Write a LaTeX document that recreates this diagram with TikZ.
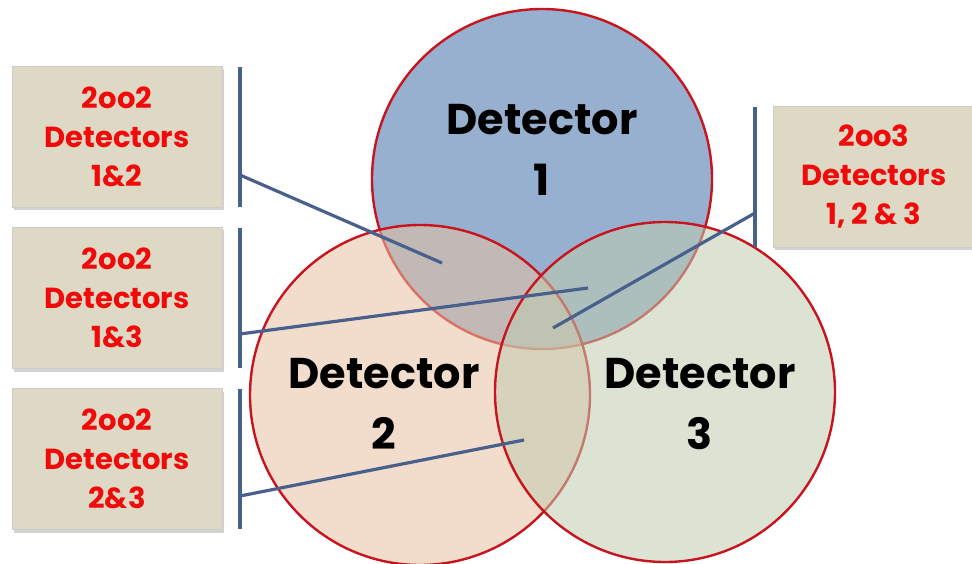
\documentclass[tikz,border=0pt]{standalone}
\usepackage{fontspec}
\setmainfont{Poppins}
\usetikzlibrary{positioning, shadows}

\definecolor{detblue}{RGB}{108,142,188}
\definecolor{detpeach}{RGB}{231,191,160}
\definecolor{detgreen}{RGB}{191,204,175}
\definecolor{detred}{RGB}{200,20,30}
\definecolor{boxfill}{RGB}{221,217,196}
\definecolor{boxtext}{RGB}{240,10,10}
\definecolor{leadblue}{RGB}{72,96,140}

\begin{document}
\begin{tikzpicture}[x=1pt, y=-1pt,
    detector/.style={circle, draw=detred, line width=2.4pt, fill opacity=0.55,
        minimum size=340pt, inner sep=0pt},
    detlabel/.style={align=center, font=\fontsize{43}{61}\selectfont\bfseries, text=black},
    infobox/.style={draw=black!20, fill=boxfill, minimum width=210pt, minimum height=141pt,
        align=center, text=boxtext, font=\fontsize{29}{39}\selectfont\bfseries,
        drop shadow={shadow xshift=2pt, shadow yshift=-3pt, opacity=0.35}},
    leader/.style={draw=leadblue, line width=3.2pt}]
    \useasboundingbox (0,0) rectangle (972,564);

    % Detector circles
    \node[detector, fill=detblue, fill opacity=0.7] (det1) at (542,179) {};
    \node[detector, fill=detpeach] (det2) at (420,395) {};
    \node[detector, fill=detgreen] (det3) at (665,392) {};

    % Detector labels
    \node[detlabel] (lab1) at (542,150) {Detector\\1};
    \node[detlabel] (lab2) at (384,404) {Detector\\2};
    \node[detlabel] (lab3) at (700,404) {Detector\\3};

    % Info boxes (left side)
    \node[infobox] (box12) at (117,136.5) {2oo2\\Detectors\\1\&2};
    \node[infobox] (box13) at (117,298) {2oo2\\Detectors\\1\&3};
    \node[infobox] (box23) at (117,459) {2oo2\\Detectors\\2\&3};

    % Info box (right side)
    \node[infobox, minimum width=202pt] (box123) at (874,177) {2oo3\\Detectors\\1, 2 \& 3};

    % Bars beside the boxes
    \coordinate (bar12a) at (240,67);   \coordinate (bar12b) at (240,207);
    \coordinate (bar13a) at (240,228);  \coordinate (bar13b) at (240,368);
    \coordinate (bar23a) at (240,389);  \coordinate (bar23b) at (240,529);
    \coordinate (bar123a) at (755,107); \coordinate (bar123b) at (755,247);
    \draw[leader] (bar12a) -- (bar12b);
    \draw[leader] (bar13a) -- (bar13b);
    \draw[leader] (bar23a) -- (bar23b);
    \draw[leader] (bar123a) -- (bar123b);

    % Leader lines into the overlaps
    \coordinate (from12) at (240,175);   \coordinate (in12) at (442,263);
    \coordinate (from13) at (240,334);   \coordinate (in13) at (588,288);
    \coordinate (from23) at (240,496);   \coordinate (in23) at (524,440);
    \coordinate (from123) at (755,213);  \coordinate (in123) at (553,328);
    \draw[leader] (from12) -- (in12);
    \draw[leader] (from13) -- (in13);
    \draw[leader] (from23) -- (in23);
    \draw[leader] (from123) -- (in123);
\end{tikzpicture}
\end{document}
